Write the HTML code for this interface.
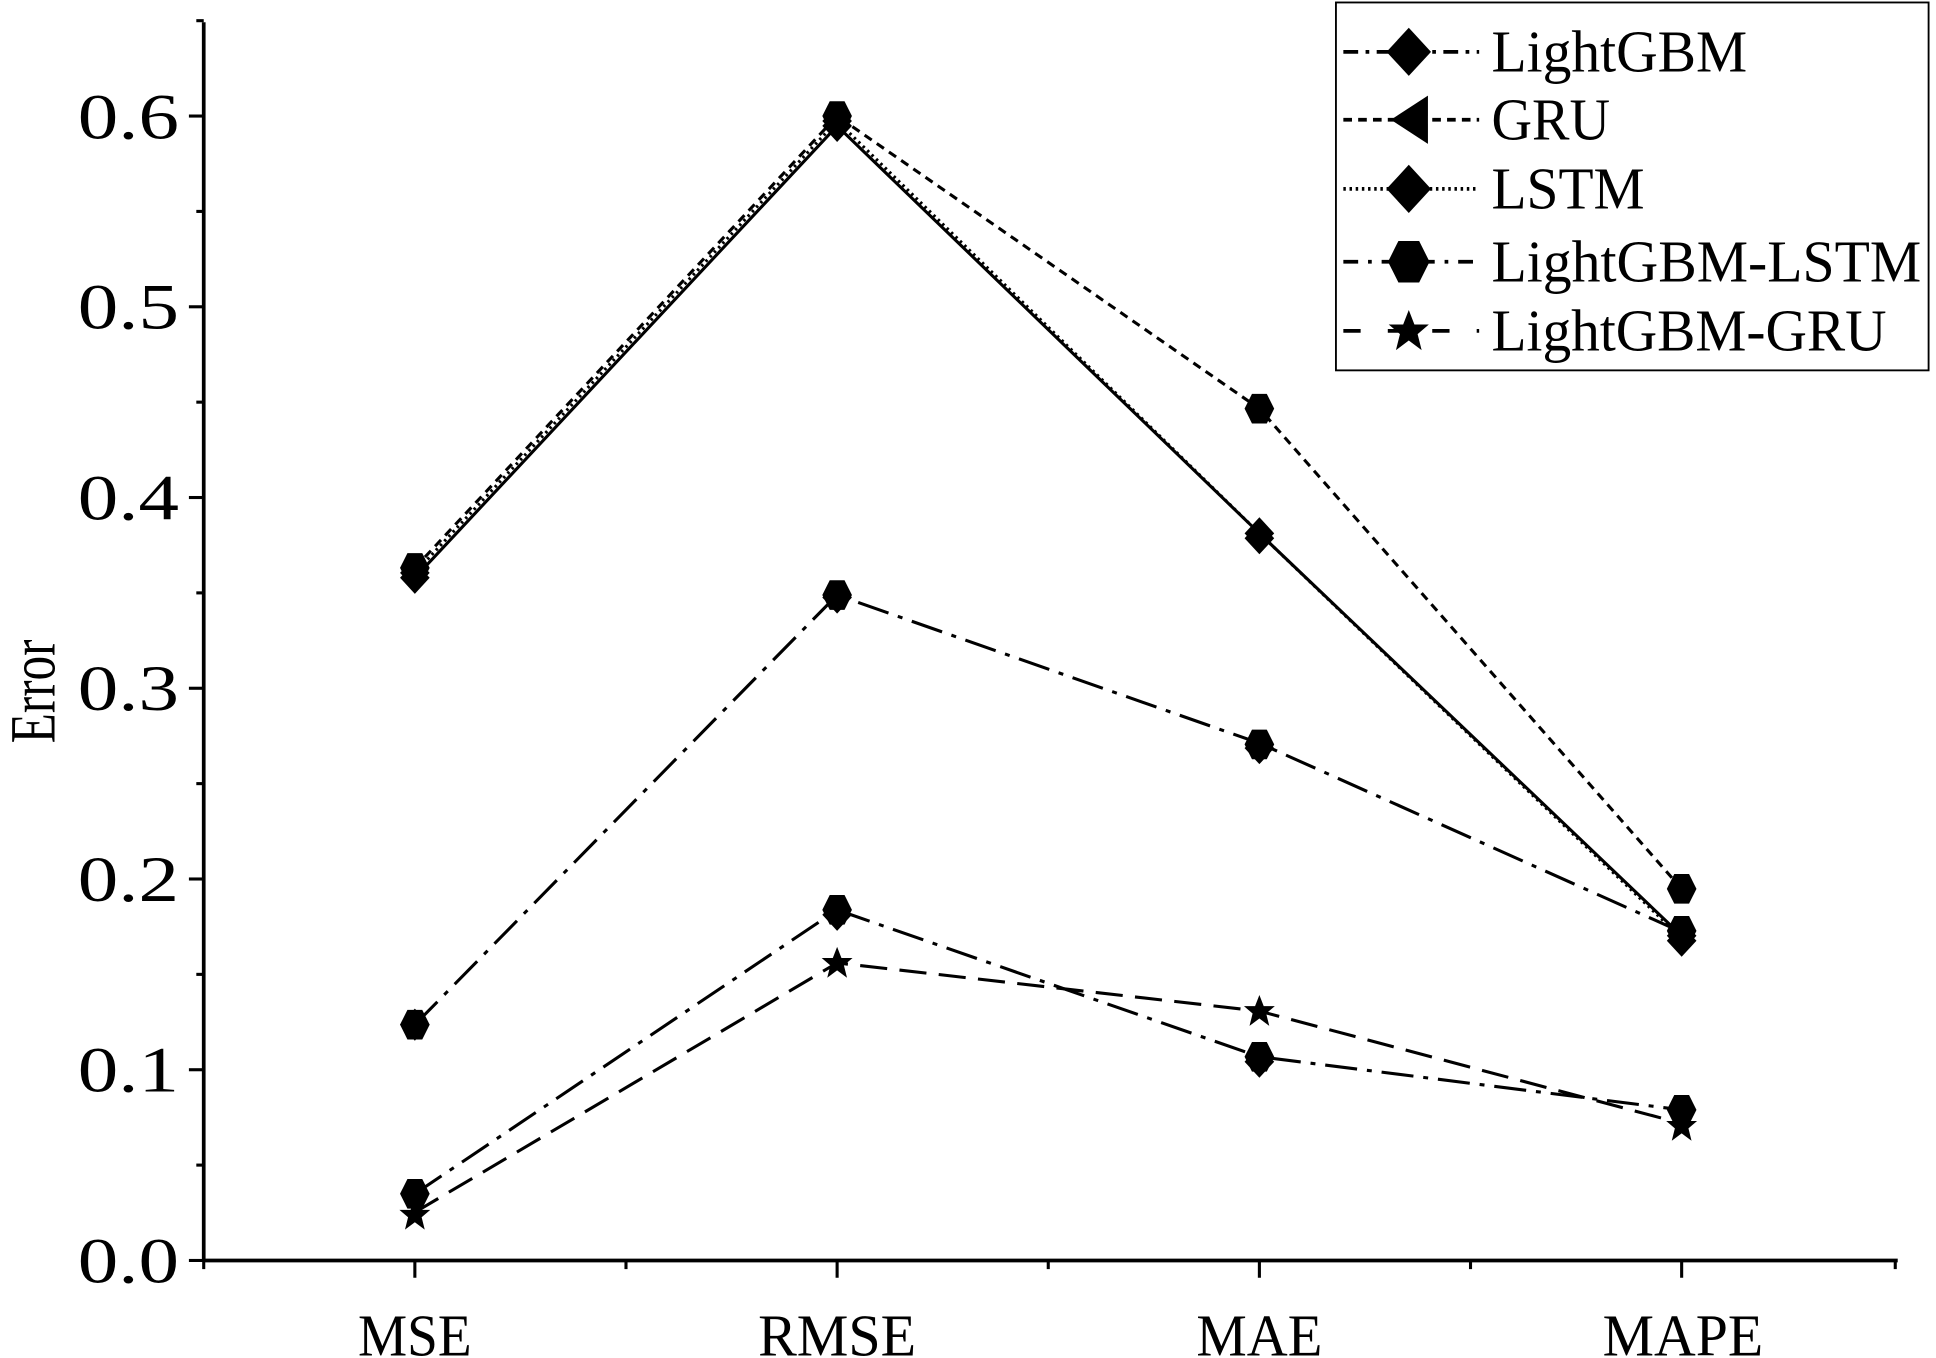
<!DOCTYPE html>
<html><head><meta charset="utf-8"><style>html,body{margin:0;padding:0;background:#fff}svg{display:block}</style></head>
<body>
<svg width="1936" height="1358" viewBox="0 0 1568 1100" preserveAspectRatio="none" xmlns="http://www.w3.org/2000/svg" font-family="Liberation Serif, serif">
<defs>
<path id="dia" d="M0,-13 L12,0 L0,13 L-12,0Z"/>
<path id="hex" d="M-6,-12 L6,-12 L12,0 L6,12 L-6,12 L-12,0Z"/>
<path id="tri" d="M-11,0 L9,-13 L9,13Z"/>
<path id="star" d="M0,-13 L3.5,-4 L12.5,-4 L5.5,2 L8,12 L0,6 L-8,12 L-5.5,2 L-12.5,-4 L-3.5,-4Z"/>
</defs>
<g stroke="#000" stroke-width="3" fill="none">
<line x1="165" y1="18" x2="165" y2="1022"/>
<line x1="164" y1="1021" x2="1537" y2="1021"/>
<g stroke-width="2.5">
<line x1="165" y1="1021" x2="153" y2="1021"/><line x1="165" y1="866.5" x2="153" y2="866.5"/><line x1="165" y1="712" x2="153" y2="712"/><line x1="165" y1="557.5" x2="153" y2="557.5"/><line x1="165" y1="403" x2="153" y2="403"/><line x1="165" y1="248.5" x2="153" y2="248.5"/><line x1="165" y1="94" x2="153" y2="94"/>
<line x1="165" y1="943.75" x2="159" y2="943.75"/><line x1="165" y1="789.25" x2="159" y2="789.25"/><line x1="165" y1="634.75" x2="159" y2="634.75"/><line x1="165" y1="480.25" x2="159" y2="480.25"/><line x1="165" y1="325.75" x2="159" y2="325.75"/><line x1="165" y1="171.25" x2="159" y2="171.25"/><line x1="165" y1="16.75" x2="159" y2="16.75"/>
<line x1="336" y1="1021" x2="336" y2="1035"/><line x1="678" y1="1021" x2="678" y2="1035"/><line x1="1020" y1="1021" x2="1020" y2="1035"/><line x1="1362" y1="1021" x2="1362" y2="1035"/>
<line x1="165" y1="1021" x2="165" y2="1028"/><line x1="507" y1="1021" x2="507" y2="1028"/><line x1="849" y1="1021" x2="849" y2="1028"/><line x1="1191" y1="1021" x2="1191" y2="1028"/><line x1="1535" y1="1021" x2="1535" y2="1028"/>
</g>
<polyline points="336,468 678,102 1020,432 1362,758" stroke-width="2.5"/>
<polyline points="336,460 678,94 1020,331 1362,720" stroke-dasharray="7,5" stroke-width="2.5"/>
<polyline points="336,464 678,98 1020,432 1362,760" stroke-dasharray="2,3" stroke-width="2.5"/>
<polyline points="336,830 678,482 1020,602 1362,755" stroke-dasharray="26,8,4,8" stroke-width="2.5"/>
<polyline points="336,967 678,737 1020,856 1362,899" stroke-dasharray="26,8,4,8" stroke-width="2.5"/>
<polyline points="336,982 678,780 1020,819 1362,910" stroke-dasharray="22,10" stroke-width="2.5"/>
</g>
<g fill="#000">
<use href="#dia" x="336" y="468"/><use href="#dia" x="678" y="102"/><use href="#dia" x="1020" y="432"/><use href="#dia" x="1362" y="762"/>
<use href="#hex" x="336" y="460"/><use href="#hex" x="678" y="94"/><use href="#hex" x="1020" y="331"/><use href="#hex" x="1362" y="720"/>
<use href="#dia" x="336" y="464"/><use href="#dia" x="678" y="98"/><use href="#dia" x="1020" y="436"/><use href="#dia" x="1362" y="758"/>
<use href="#hex" x="336" y="830"/><use href="#hex" x="678" y="482"/><use href="#hex" x="1020" y="603"/><use href="#hex" x="1362" y="754"/>
<use href="#dia" x="336" y="830"/><use href="#dia" x="678" y="484"/><use href="#dia" x="1020" y="606"/>
<use href="#hex" x="336" y="967"/><use href="#hex" x="678" y="737"/><use href="#hex" x="1020" y="856"/><use href="#hex" x="1362" y="899"/>
<use href="#dia" x="678" y="741"/><use href="#dia" x="1020" y="860"/>
<use href="#star" x="336" y="984"/><use href="#star" x="678" y="780"/><use href="#star" x="1020" y="819"/><use href="#star" x="1362" y="912"/>
</g>
<g font-size="52">
<text x="63" y="1039" textLength="82" lengthAdjust="spacingAndGlyphs">0.0</text><text x="63" y="884" textLength="82" lengthAdjust="spacingAndGlyphs">0.1</text><text x="63" y="730" textLength="82" lengthAdjust="spacingAndGlyphs">0.2</text><text x="63" y="575" textLength="82" lengthAdjust="spacingAndGlyphs">0.3</text><text x="63" y="421" textLength="82" lengthAdjust="spacingAndGlyphs">0.4</text><text x="63" y="266" textLength="82" lengthAdjust="spacingAndGlyphs">0.5</text><text x="63" y="112" textLength="82" lengthAdjust="spacingAndGlyphs">0.6</text>
</g>
<g font-size="48">
<text x="290" y="1098" textLength="92" lengthAdjust="spacingAndGlyphs">MSE</text>
<text x="614" y="1098" textLength="128" lengthAdjust="spacingAndGlyphs">RMSE</text>
<text x="969" y="1098" textLength="102" lengthAdjust="spacingAndGlyphs">MAE</text>
<text x="1298" y="1098" textLength="130" lengthAdjust="spacingAndGlyphs">MAPE</text>
<text transform="translate(44,602) rotate(-90)" font-size="52" textLength="84" lengthAdjust="spacingAndGlyphs">Error</text>
</g>
<rect x="1082" y="2" width="480" height="298" fill="#fff" stroke="#000" stroke-width="1.5"/>
<g stroke="#000" stroke-width="3" fill="none">
<line x1="1088" y1="42" x2="1198" y2="42" stroke-dasharray="12,6,3,6"/>
<line x1="1088" y1="97" x2="1198" y2="97" stroke-dasharray="7,5"/>
<line x1="1088" y1="153" x2="1198" y2="153" stroke-dasharray="2,3"/>
<line x1="1088" y1="212" x2="1198" y2="212" stroke-dasharray="12,8,3,8"/>
<line x1="1088" y1="268" x2="1198" y2="268" stroke-dasharray="14,22"/>
</g>
<g fill="#000">
<use href="#dia" transform="translate(1141,42) scale(1.5)"/>
<use href="#tri" transform="translate(1143,97) scale(1.5)"/>
<use href="#dia" transform="translate(1141,153) scale(1.5)"/>
<use href="#hex" transform="translate(1141,212) scale(1.4)"/>
<use href="#star" transform="translate(1141,268) scale(1.3)"/>
</g>
<g font-size="48">
<text x="1208" y="58" textLength="207" lengthAdjust="spacingAndGlyphs">LightGBM</text>
<text x="1208" y="113" textLength="96" lengthAdjust="spacingAndGlyphs">GRU</text>
<text x="1208" y="169" textLength="124" lengthAdjust="spacingAndGlyphs">LSTM</text>
<text x="1208" y="228" textLength="348" lengthAdjust="spacingAndGlyphs">LightGBM-LSTM</text>
<text x="1208" y="284" textLength="320" lengthAdjust="spacingAndGlyphs">LightGBM-GRU</text>
</g>
</svg>
</body></html>
